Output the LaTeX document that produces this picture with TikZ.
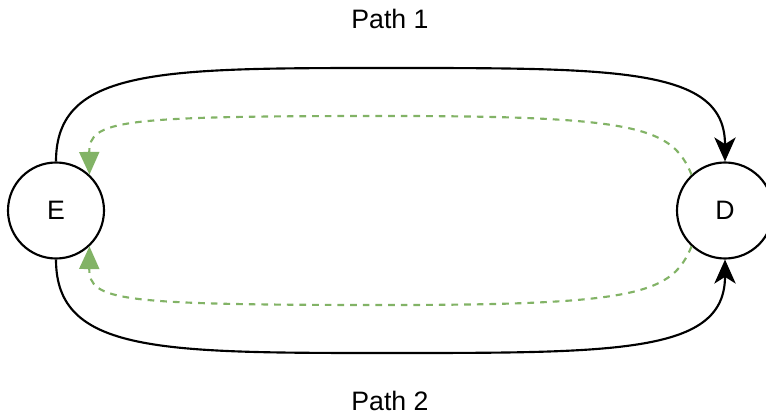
\documentclass[tikz,border=0pt]{standalone}
\usepackage{fontspec}
\setmainfont{Liberation Sans}
\usetikzlibrary{arrows.meta}
\definecolor{greenline}{HTML}{82B366}
\begin{document}
\begin{tikzpicture}[x=0.75pt,y=-0.75pt,
  circ/.style={draw=black,line width=1.6pt,circle,minimum size=72pt,inner sep=0pt,font=\fontsize{20}{22}\selectfont},
  lbl/.style={font=\fontsize{20}{22}\selectfont},
  blk/.style={draw=black,line width=1.6pt,-{Stealth[length=18pt,width=16pt,inset=5pt]}},
  grn/.style={draw=greenline,line width=1.6pt,dash pattern=on 5pt off 4.5pt,-{Triangle[length=17pt,width=15pt]}}]
\useasboundingbox (0,0) rectangle (766,416);
\node[circ] (E) at (56,210.5) {E};
\node[circ] (D) at (725,210.5) {D};
\node[lbl] (p1) at (390,19) {Path 1};
\node[lbl] (p2) at (390,401) {Path 2};
\coordinate (t1) at (390,68);
\coordinate (b1) at (390,353);
\coordinate (t2) at (390,116);
\coordinate (b2) at (390,305);
\draw[blk] (E.north) .. controls (56,68) and (160,68) .. (t1) .. controls (620,68) and (725,68) .. (D.north);
\draw[blk] (E.south) .. controls (56,353) and (160,353) .. (b1) .. controls (620,353) and (725,353) .. (D.south);
\draw[grn] (D.133) .. controls (672,128) and (640,116) .. (t2) .. controls (120,116) and (89,120) .. (E.47);
\draw[grn] (D.-133) .. controls (672,293) and (640,305) .. (b2) .. controls (120,305) and (89,301) .. (E.-47);
\end{tikzpicture}
\end{document}
